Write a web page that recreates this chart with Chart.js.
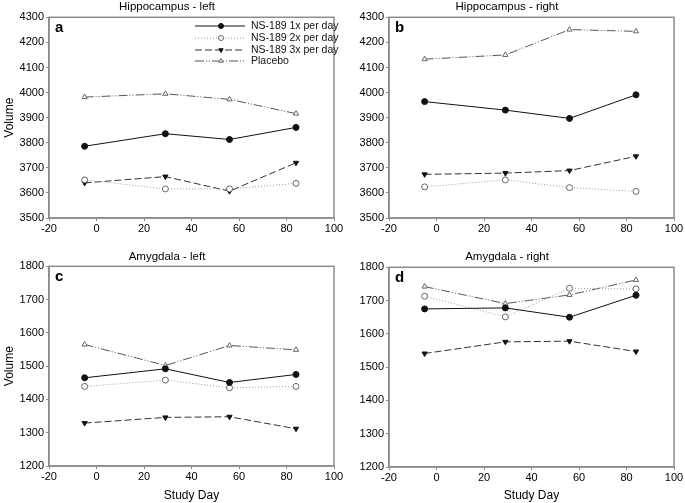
<!DOCTYPE html>
<html>
<head>
<meta charset="utf-8">
<script src="https://cdn.jsdelivr.net/npm/chart.js@4"></script>
<style>
  body { margin: 0; background: #fff; }
  #wrap { position: relative; width: 685px; height: 503px; }
  #wrap canvas { position: absolute; }
</style>
</head>
<body>
<div id="wrap">
  <canvas id="chartA" width="345" height="250" style="left:0;top:0"></canvas>
  <canvas id="chartB" width="345" height="250" style="left:340px;top:0"></canvas>
  <canvas id="chartC" width="345" height="253" style="left:0;top:250px"></canvas>
  <canvas id="chartD" width="345" height="253" style="left:340px;top:250px"></canvas>
</div>
<script>
// Study days (x values)
const studyDays = [-5, 29, 56, 84];
const seriesNames = ['NS-189 1x per day', 'NS-189 2x per day', 'NS-189 3x per day', 'Placebo'];

// Hippocampus - left
const hipLeft1x = [3786, 3836, 3813, 3861];
const hipLeft2x = [3652, 3616, 3616, 3638];
const hipLeft3x = [3640, 3665, 3607, 3720];
const hipLeftPlacebo = [3982, 3995, 3973, 3916];

// Hippocampus - right
const hipRight1x = [3964, 3930, 3897, 3991];
const hipRight2x = [3624, 3652, 3621, 3606];
const hipRight3x = [3674, 3679, 3689, 3746];
const hipRightPlacebo = [4133, 4150, 4251, 4244];

// Amygdala - left
const amyLeft1x = [1465, 1492, 1451, 1475];
const amyLeft2x = [1439, 1458, 1435, 1439];
const amyLeft3x = [1329, 1346, 1348, 1312];
const amyLeftPlacebo = [1565, 1502, 1562, 1549];

// Amygdala - right
const amyRight1x = [1675, 1678, 1650, 1716];
const amyRight2x = [1713, 1651, 1737, 1735];
const amyRight3x = [1541, 1576, 1578, 1547];
const amyRightPlacebo = [1742, 1691, 1717, 1762];

// Axis ticks
const xTicks = { min: -20, max: 100, step: 20 };
const hipTicks = { min: 3500, max: 4300, step: 100 };
const amyTicks = { min: 1200, max: 1800, step: 100 };

const FONT = "'Liberation Sans', Arial, sans-serif";
const frameColor = '#8c8c8c';

// Series styles
const styles = [
    { color: '#111', dash: [], pointStyle: 'circle', fill: '#111', rotation: 0 },
    { color: '#999', dash: [1, 2], pointStyle: 'circle', fill: '#fff', rotation: 0 },
    { color: '#333', dash: [7, 3], pointStyle: 'triangle', fill: '#111', rotation: 180 },
    { color: '#555', dash: [9, 2, 1, 2, 1, 2], pointStyle: 'triangle', fill: '#fff', rotation: 0 }
];

function makeDatasets(seriesList) {
    return seriesList.map((values, i) => {
        const s = styles[i];
        return {
            label: seriesNames[i],
            data: values.map((v, j) => ({ x: studyDays[j], y: v })),
            borderColor: s.color,
            borderWidth: 1,
            borderDash: s.dash,
            pointStyle: s.pointStyle,
            pointRotation: s.rotation,
            pointRadius: 3,
            pointBackgroundColor: s.fill,
            pointBorderColor: i === 0 || i === 2 ? '#111' : '#666',
            pointBorderWidth: 1,
            tension: 0
        };
    });
}

// Frame around plot area and the panel letter
const framePlugin = {
    id: 'frame',
    afterDraw(chart, args, opts) {
        const { ctx, chartArea: a } = chart;
        ctx.save();
        ctx.strokeStyle = frameColor;
        ctx.lineWidth = 1.5;
        ctx.strokeRect(a.left, a.top, a.right - a.left, a.bottom - a.top);
        ctx.fillStyle = '#000';
        ctx.font = 'bold 15px ' + FONT;
        ctx.textBaseline = 'middle';
        ctx.fillText(opts.letter, a.left + 6, a.top + 11);
        ctx.restore();
    }
};

// Legend drawn as line + marker samples, only on panel a
const legendPlugin = {
    id: 'lineLegend',
    afterDraw(chart, args, opts) {
        if (!opts.show) return;
        const { ctx } = chart;
        const x0 = 195, x1 = 245, xm = 221, tx = 251;
        const rows = [26, 38, 50, 61];
        ctx.save();
        chart.data.datasets.forEach((ds, i) => {
            const y = rows[i];
            ctx.strokeStyle = ds.borderColor;
            ctx.lineWidth = 1;
            ctx.setLineDash(ds.borderDash);
            ctx.beginPath();
            ctx.moveTo(x0, y);
            ctx.lineTo(x1, y);
            ctx.stroke();
            ctx.setLineDash([]);
            ctx.fillStyle = ds.pointBackgroundColor;
            ctx.strokeStyle = ds.pointBorderColor;
            Chart.helpers.drawPoint(ctx, {
                pointStyle: ds.pointStyle,
                rotation: ds.pointRotation,
                radius: 2.5,
                borderWidth: 1
            }, xm, y);
            ctx.fillStyle = '#111';
            ctx.font = '10.5px ' + FONT;
            ctx.textBaseline = 'middle';
            ctx.fillText(ds.label, tx, y + 0.5);
        });
        ctx.restore();
    }
};

function makeChart(id, title, letter, seriesList, yTicks, showYTitle, showXTitle, showLegend, topPad, bottomH) {
    const ctx = document.getElementById(id).getContext('2d');
    return new Chart(ctx, {
        type: 'line',
        data: { datasets: makeDatasets(seriesList) },
        plugins: [framePlugin, legendPlugin],
        options: {
            responsive: false,
            animation: false,
            layout: { padding: { left: 0, right: 11, top: 0, bottom: 0 } },
            plugins: {
                legend: { display: false },
                tooltip: { enabled: false },
                title: {
                    display: true,
                    text: title,
                    color: '#000',
                    font: { family: FONT, size: 11.5, weight: 'normal' },
                    padding: { top: 0, bottom: topPad }
                },
                frame: { letter: letter },
                lineLegend: { show: showLegend }
            },
            scales: {
                x: {
                    type: 'linear',
                    min: xTicks.min,
                    max: xTicks.max,
                    ticks: {
                        stepSize: xTicks.step,
                        color: '#000',
                        font: { family: FONT, size: 11 },
                        padding: 1,
                        callback: v => String(v)
                    },
                    grid: { drawOnChartArea: false, tickLength: 3, color: frameColor },
                    border: { color: frameColor, width: 1.5 },
                    title: {
                        display: showXTitle,
                        text: 'Study Day',
                        color: '#000',
                        font: { family: FONT, size: 12 },
                        padding: { top: 7, bottom: 0 }
                    },
                    afterFit(scale) { scale.height = bottomH; }
                },
                y: {
                    min: yTicks.min,
                    max: yTicks.max,
                    ticks: {
                        stepSize: yTicks.step,
                        color: '#000',
                        font: { family: FONT, size: 11 },
                        padding: 2,
                        callback: v => String(v)
                    },
                    grid: { drawOnChartArea: false, tickLength: 3, color: frameColor },
                    border: { color: frameColor, width: 1.5 },
                    title: {
                        display: showYTitle,
                        text: 'Volume',
                        color: '#000',
                        font: { family: FONT, size: 12 },
                        padding: { top: 2, bottom: 2 }
                    },
                    afterFit(scale) { scale.width = 49; }
                }
            }
        }
    });
}

makeChart('chartA', 'Hippocampus - left', 'a',
    [hipLeft1x, hipLeft2x, hipLeft3x, hipLeftPlacebo], hipTicks, true, false, true, 3.5, 32);
makeChart('chartB', 'Hippocampus - right', 'b',
    [hipRight1x, hipRight2x, hipRight3x, hipRightPlacebo], hipTicks, false, false, false, 3.5, 32);
makeChart('chartC', 'Amygdala - left', 'c',
    [amyLeft1x, amyLeft2x, amyLeft3x, amyLeftPlacebo], amyTicks, true, true, false, 2.5, 37);
makeChart('chartD', 'Amygdala - right', 'd',
    [amyRight1x, amyRight2x, amyRight3x, amyRightPlacebo], amyTicks, false, true, false, 3.5, 36);
</script>
</body>
</html>
